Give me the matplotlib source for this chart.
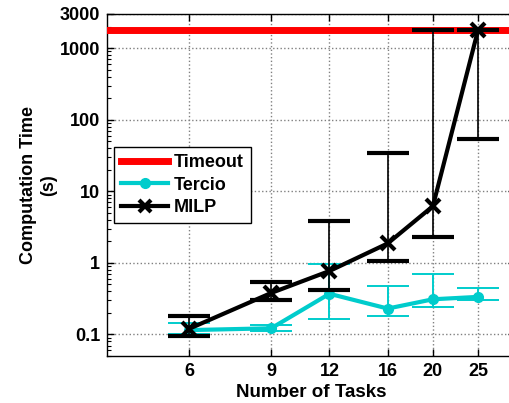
import matplotlib
matplotlib.use("Agg")
import matplotlib.pyplot as plt
from matplotlib.lines import Line2D
from matplotlib.ticker import NullLocator, LogLocator, FixedLocator, NullFormatter

plt.rcParams['font.family'] = ['Liberation Sans', 'DejaVu Sans']
plt.rcParams['font.weight'] = 'bold'

# данные
tasks = [6, 9, 12, 16, 20, 25]
timeout = 1800

tercio = [0.115, 0.122, 0.37, 0.23, 0.31, 0.335]
tercio_lo = [0.10, 0.11, 0.167, 0.18, 0.24, 0.30]
tercio_hi = [0.145, 0.135, 0.95, 0.47, 0.71, 0.45]

milp = [0.12, 0.38, 0.77, 1.87, 6.2, 1800]
milp_lo = [0.094, 0.30, 0.42, 1.07, 2.27, 53]
milp_hi = [0.18, 0.54, 3.8, 34, 1800, 1800]

y_ticks = [0.1, 1, 10, 100, 1000, 3000]
cyan = '#00cccc'

fig = plt.figure(figsize=(5.1, 4.03), dpi=100)
ax = fig.add_axes([107 / 510, 47 / 403, 408 / 510, 342 / 403])
ax.set_xscale('log')
ax.set_yscale('log')

ax.plot([4, 30], [timeout, timeout], color='red', linewidth=5, zorder=3)

t_err = [[v - lo for v, lo in zip(tercio, tercio_lo)], [hi - v for v, hi in zip(tercio, tercio_hi)]]
ax.errorbar(tasks, tercio, yerr=t_err, color=cyan, linewidth=3, elinewidth=1.4, capsize=15,
            capthick=1.4, marker='o', markersize=7, zorder=4)

m_err = [[v - lo for v, lo in zip(milp, milp_lo)], [hi - v for v, hi in zip(milp, milp_hi)]]
ax.errorbar(tasks, milp, yerr=m_err, color='black', linewidth=3, elinewidth=1.2, capsize=15,
            capthick=1.2, marker='x', markersize=10, markeredgewidth=3, zorder=5)

ax.set_xlim(4, 30)
ax.set_ylim(0.05, 3000)
ax.xaxis.set_major_locator(FixedLocator(tasks))
ax.xaxis.set_minor_locator(NullLocator())
ax.set_xticklabels([str(t) for t in tasks])
ax.yaxis.set_major_locator(FixedLocator(y_ticks))
ax.set_yticklabels(['0.1', '1', '10', '100', '1000', '3000'])
ax.yaxis.set_minor_locator(LogLocator(base=10, subs=range(2, 10)))
ax.yaxis.set_minor_formatter(NullFormatter())

ax.tick_params(which='both', direction='in', top=True, right=True, labelsize=13)
ax.tick_params(which='major', length=5, width=1, pad=5)
ax.tick_params(which='minor', length=3, width=0.8)
ax.grid(True, which='major', linestyle=':', color='gray', linewidth=1)
for s in ax.spines.values():
    s.set_linewidth(1)

ax.set_xlabel('Number of Tasks', fontsize=13.5, fontweight='bold', labelpad=3)
ax.set_ylabel('Computation Time\n(s)', fontsize=13, fontweight='bold', labelpad=2)

handles = [
    Line2D([], [], color='red', linewidth=5),
    Line2D([], [], color=cyan, linewidth=3, marker='o', markersize=7),
    Line2D([], [], color='black', linewidth=3, marker='x', markersize=9, markeredgewidth=3),
]
leg = ax.legend(handles, ['Timeout', 'Tercio', 'MILP'], loc='upper left',
                bbox_to_anchor=(114 / 510, 1 - 147 / 403),
                bbox_transform=fig.transFigure, fancybox=False, edgecolor='black',
                fontsize=13, handlelength=2.6, borderpad=0.4, labelspacing=0.3,
                handletextpad=0.3, borderaxespad=0, framealpha=1)
leg.get_frame().set_linewidth(1)
leg.set_zorder(10)

fig.savefig('out.png', dpi=100)
